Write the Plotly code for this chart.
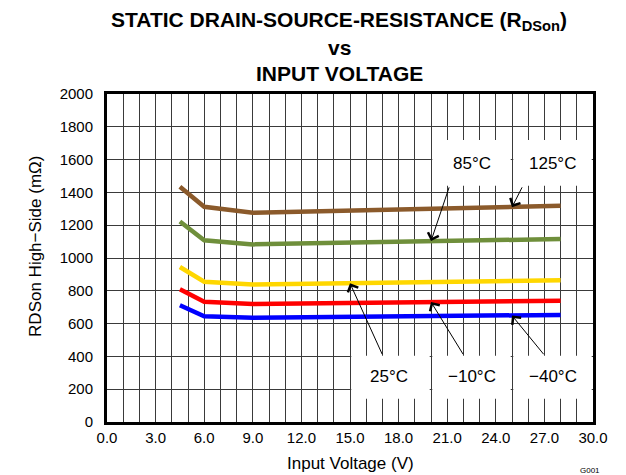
import plotly.graph_objects as go

# ---- data ----
input_voltage = [4.5, 6, 9, 12, 15, 18, 21, 24, 28]
r_125c = [1435, 1312, 1276, 1282, 1290, 1296, 1302, 1308, 1318]
r_85c = [1222, 1108, 1083, 1088, 1093, 1098, 1103, 1108, 1116]
r_25c = [945, 855, 838, 842, 846, 850, 854, 858, 864]
r_m10c = [810, 733, 720, 723, 726, 729, 732, 735, 740]
r_m40c = [712, 645, 636, 639, 641, 644, 646, 649, 653]

series_names = ["125°C", "85°C", "25°C", "−10°C", "−40°C"]
series_values = [r_125c, r_85c, r_25c, r_m10c, r_m40c]
series_colors = ["#8B5A2B", "#6F8F3B", "#FFD700", "#FF0000", "#0000FF"]

x_tick_vals = [0, 3, 6, 9, 12, 15, 18, 21, 24, 27, 30]
x_tick_text = ["0.0", "3.0", "6.0", "9.0", "12.0", "15.0", "18.0", "21.0", "24.0", "27.0", "30.0"]
y_tick_vals = [0, 200, 400, 600, 800, 1000, 1200, 1400, 1600, 1800, 2000]

FONT = "Liberation Sans, Arial, sans-serif"

fig = go.Figure()
for name, vals, col in zip(series_names, series_values, series_colors):
    fig.add_trace(go.Scatter(x=input_voltage, y=vals, mode="lines", name=name,
                             line=dict(color=col, width=4.5), showlegend=False))

# label boxes (white) covering grid
boxes = [
    (20.08, 24.92, 1440, 1720),
    (25.08, 29.92, 1440, 1720),
    (15.08, 19.92, 142, 404),
    (20.08, 24.92, 142, 404),
    (25.08, 29.92, 142, 404),
]
for x0, x1, y0, y1 in boxes:
    fig.add_shape(type="rect", xref="x", yref="y", x0=x0, x1=x1, y0=y0, y1=y1,
                  fillcolor="white", line=dict(width=0), layer="between")

labels = [
    ("85°C", 22.5, 1575),
    ("125°C", 27.5, 1575),
    ("25°C", 17.4, 276),
    ("−10°C", 22.5, 276),
    ("−40°C", 27.5, 276),
]
for t, x, y in labels:
    fig.add_annotation(x=x, y=y, xref="x", yref="y", text=t, showarrow=False,
                       font=dict(family=FONT, size=17, color="black"))

arrows = [
    # head x, head y, tail x, tail y
    (20.0, 1103, 21.15, 1440),
    (25.0, 1310, 25.67, 1440),
    (15.0, 846, 17.03, 404),
    (20.0, 732, 22.04, 404),
    (25.0, 649, 27.03, 404),
]
for hx, hy, tx, ty in arrows:
    fig.add_annotation(x=hx, y=hy, ax=tx, ay=ty, xref="x", yref="y", axref="x", ayref="y",
                       text="", showarrow=True, arrowhead=4, arrowsize=2.2,
                       arrowwidth=1, arrowcolor="black", standoff=0, startstandoff=0)

# title lines
TSIZE = 21
fig.add_annotation(x=0.478, y=1.222, xref="paper", yref="paper", showarrow=False,
                   text="<b>STATIC DRAIN-SOURCE-RESISTANCE (R<sub>DSon</sub>)</b>",
                   font=dict(family=FONT, size=TSIZE, color="black"), yanchor="middle")
fig.add_annotation(x=0.478, y=1.142, xref="paper", yref="paper", showarrow=False,
                   text="<b>vs</b>", font=dict(family=FONT, size=TSIZE, color="black"),
                   yanchor="middle")
fig.add_annotation(x=0.478, y=1.062, xref="paper", yref="paper", showarrow=False,
                   text="<b>INPUT VOLTAGE</b>", font=dict(family=FONT, size=TSIZE, color="black"),
                   yanchor="middle")

# axis titles
fig.add_annotation(x=-0.171, y=0.535, xref="paper", yref="paper", showarrow=False,
                   text="RDSon High−Side (mΩ)", textangle=-90,
                   font=dict(family=FONT, size=17, color="black"))
fig.add_annotation(x=0.5, y=-0.127, xref="paper", yref="paper", showarrow=False,
                   text="Input Voltage (V)", font=dict(family=FONT, size=17, color="black"),
                   yanchor="middle")
fig.add_annotation(x=1.018, y=-0.148, xref="paper", yref="paper", showarrow=False,
                   text="G001", font=dict(family=FONT, size=8, color="black"), yanchor="middle")

fig.update_layout(
    width=618, height=467,
    margin=dict(l=99, r=33, t=86, b=53),
    paper_bgcolor="white", plot_bgcolor="white",
    font=dict(family=FONT, size=15, color="black"),
    xaxis=dict(range=[0, 30], tickmode="array", tickvals=x_tick_vals, ticktext=x_tick_text,
               showgrid=True, gridcolor="#3a3a3a", gridwidth=1,
               minor=dict(dtick=1, showgrid=True, gridcolor="#3a3a3a", gridwidth=1),
               showline=True, linecolor="black", linewidth=3, mirror=True,
               ticks="", zeroline=False, ticklabelstandoff=0,
               tickfont=dict(family=FONT, size=15)),
    yaxis=dict(range=[0, 2000], tickmode="array", tickvals=y_tick_vals,
               showgrid=True, gridcolor="#3a3a3a", gridwidth=1,
               showline=True, linecolor="black", linewidth=3, mirror=True,
               ticks="", zeroline=False, ticklabelstandoff=8,
               tickfont=dict(family=FONT, size=15)),
)

fig.write_html("out.html")
